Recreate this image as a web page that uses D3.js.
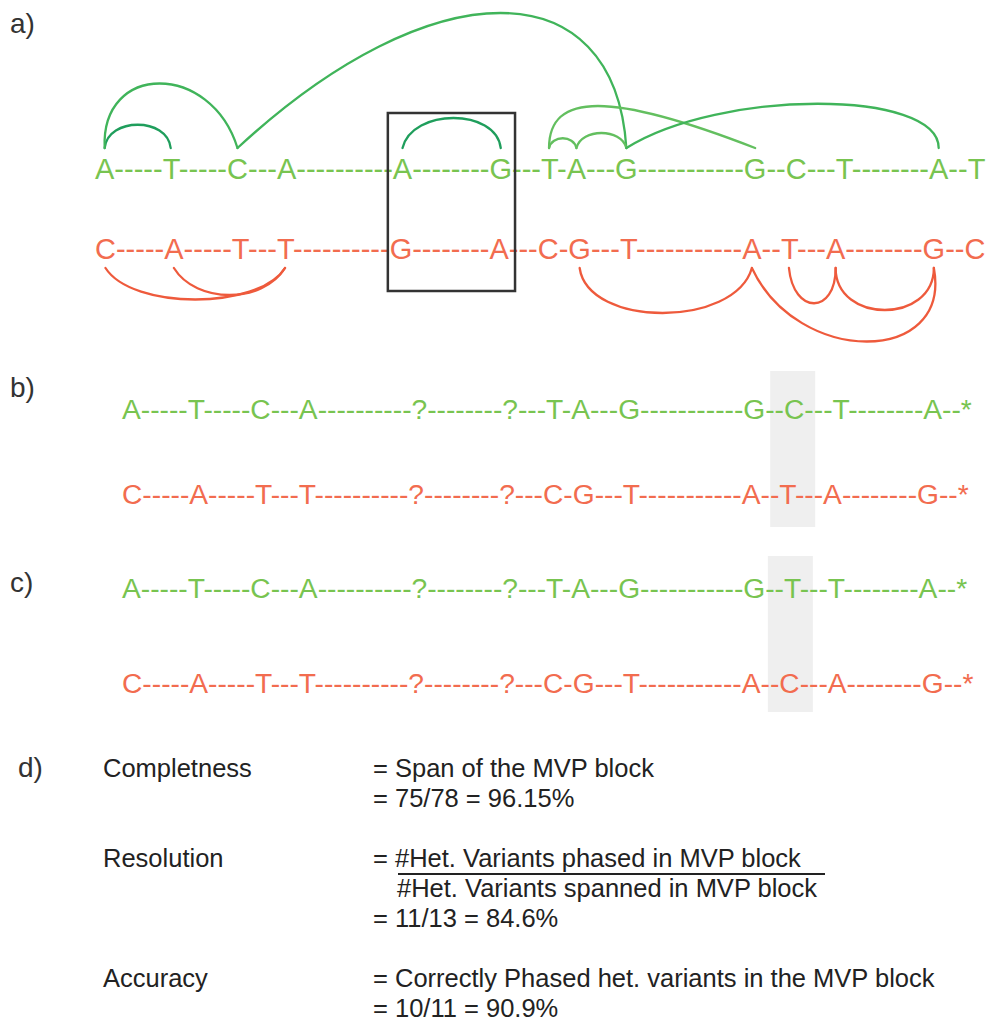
<!DOCTYPE html>
<html>
<head>
<meta charset="utf-8">
<script src="https://cdn.jsdelivr.net/npm/d3@7"></script>
<style>
  body { margin: 0; background: #fff; }
  text { font-family: "Liberation Sans", Arial, Helvetica, sans-serif; }
</style>
</head>
<body>
<div id="fig"></div>
<script>
// haplotypes (panel a) and predicted haplotypes (panels b and c)
const hapTrue1 = "A-----T-----C---A----------A--------G---T-A---G-----------G--C---T--------A--T";
const hapTrue2 = "C-----A-----T---T----------G--------A---C-G---T-----------A--T---A--------G--C";
const hapB1 = "A-----T-----C---A----------?--------?---T-A---G-----------G--C---T--------A--*";
const hapB2 = "C-----A-----T---T----------?--------?---C-G---T-----------A--T---A--------G--*";
const hapC1 = "A-----T-----C---A----------?--------?---T-A---G-----------G--T---T--------A--*";
const hapC2 = "C-----A-----T---T----------?--------?---C-G---T-----------A--C---A--------G--*";

// read links, as [from variant, to variant] (variant = n-th letter in the row)
const greenLinks = [[0, 1], [0, 2], [2, 8], [4, 5], [6, 9], [6, 7], [7, 8], [8, 12]];
const redLinks = [[0, 3], [1, 3], [7, 9], [9, 12], [10, 11], [11, 12]];
const boxedVariants = [4, 5];
const switchedVariant = 10;

const panelLabels = ["a)", "b)", "c)", "d)"];
const metricNames = ["Completness", "Resolution", "Accuracy"];
const metricLines = [
  ["= Span of the MVP block", "= 75/78 = 96.15%"],
  ["= #Het. Variants phased in MVP block", "#Het. Variants spanned in MVP block", "= 11/13 = 84.6%"],
  ["= Correctly Phased het. variants in the MVP block", "= 10/11 = 90.9%"]
];

// drawing styles for the arcs (h = depth, k1/k2 = control point placement)
const dark = "#1f9e5c", mid = "#40b45a", light = "#63bf5f";
const greenArcStyle = [
  {h: 31, k1: 0.05, k2: 0.95, c: dark},
  {h: 86, k1: -0.03, k2: 0.8, c: mid},
  {h: 180, k1: 0.5, k2: 0.97, c: mid},
  {h: 40, k1: 0.1, k2: 0.95, c: dark},
  {h: 56, k1: 0.0, k2: 0.3, c: light},
  {h: 13, k1: 0.1, k2: 0.9, c: light},
  {h: 20, k1: 0.1, k2: 0.9, c: light},
  {h: 59, k1: 0.3, k2: 1.0, c: mid}
];
const redArcStyle = [
  {h: 42, k1: 0.15, k2: 0.85},
  {h: 36, k1: 0.2, k2: 0.8},
  {h: 60, k1: 0.05, k2: 0.9},
  {h: 98, k1: 0.25, k2: 1.1},
  {h: 47, k1: 0.1, k2: 1.0},
  {h: 56, k1: 0.0, k2: 1.0}
];

const green = "#78c450", red = "#f26c4f", redArc = "#ee5a3c";
const width = 990, height = 1021;

const svg = d3.select("#fig")
  .append("svg")
  .attr("width", width)
  .attr("height", height);

// highlight layer goes first so it sits behind the letters
const bgLayer = svg.append("g");

// draws one row of sequence and returns an x position for each variant letter
function drawRow(seq, x, y, size, color) {
  let t = svg.append("text")
    .attr("x", x)
    .attr("y", y)
    .attr("font-size", size)
    .attr("fill", color)
    .text(seq);
  let node = t.node();
  let idx = [];
  seq.split("").forEach((ch, i) => { if (ch !== "-") idx.push(i); });
  let ext = idx.map(i => node.getExtentOfChar(i));
  let xScale = d3.scaleOrdinal()
    .domain(d3.range(idx.length))
    .range(ext.map(e => e.x + e.width / 2));
  xScale.extents = ext;
  return xScale;
}

// panel a
let aTop = drawRow(hapTrue1, 95, 179, 29, green);
let aBot = drawRow(hapTrue2, 95, 259, 29, red);

function arcPath(x1, x2, y, h, k1, k2, dir) {
  let p = d3.path();
  p.moveTo(x1, y);
  p.bezierCurveTo(x1 + k1 * (x2 - x1), y + dir * h, x1 + k2 * (x2 - x1), y + dir * h, x2, y);
  return p.toString();
}

svg.append("g").selectAll("path")
  .data(greenLinks)
  .join("path")
  .attr("d", (d, i) => {
    let s = greenArcStyle[i];
    return arcPath(aTop(d[0]), aTop(d[1]), 148, s.h, s.k1, s.k2, -1);
  })
  .attr("fill", "none")
  .attr("stroke", (d, i) => greenArcStyle[i].c)
  .attr("stroke-width", 2.3)
  .attr("stroke-linecap", "round");

svg.append("g").selectAll("path")
  .data(redLinks)
  .join("path")
  .attr("d", (d, i) => {
    let s = redArcStyle[i];
    return arcPath(aBot(d[0]), aBot(d[1]), 268, s.h, s.k1, s.k2, 1);
  })
  .attr("fill", "none")
  .attr("stroke", redArc)
  .attr("stroke-width", 2.3)
  .attr("stroke-linecap", "round");

// the box round the two variants no read in the block can phase
let e0 = aTop.extents[boxedVariants[0]], e1 = aTop.extents[boxedVariants[1]];
svg.append("rect")
  .attr("x", e0.x - 5)
  .attr("y", 113)
  .attr("width", e1.x + e1.width + 3 - (e0.x - 5))
  .attr("height", 178)
  .attr("fill", "none")
  .attr("stroke", "#333")
  .attr("stroke-width", 2.5);

// panels b and c
let bTop = drawRow(hapB1, 122, 419, 28.2, green);
drawRow(hapB2, 122, 504, 28.2, red);
let cTop = drawRow(hapC1, 122, 598, 28.2, green);
drawRow(hapC2, 122, 693, 28.2, red);

[[bTop, 371], [cTop, 556]].forEach(([sc, y0]) => {
  bgLayer.append("rect")
    .attr("x", sc(switchedVariant) - 24)
    .attr("y", y0)
    .attr("width", 45)
    .attr("height", 156)
    .attr("fill", "#efefef");
});

// panel labels
const labelY = [33, 397, 592, 777];
const labelX = [10, 10, 10, 18];
svg.append("g").selectAll("text")
  .data(panelLabels)
  .join("text")
  .attr("x", (d, i) => labelX[i])
  .attr("y", (d, i) => labelY[i])
  .attr("font-size", 28)
  .attr("fill", "#333")
  .text(d => d);

// panel d: the metrics
const metricY = [777, 867, 987];
const lineGap = 30;
let dGroup = svg.append("g").attr("fill", "#222").attr("font-size", 25.5);

dGroup.selectAll("text.name")
  .data(metricNames)
  .join("text")
  .attr("class", "name")
  .attr("x", 103)
  .attr("y", (d, i) => metricY[i])
  .text(d => d);

metricLines.forEach((lines, i) => {
  lines.forEach((l, j) => {
    dGroup.append("text")
      .attr("x", l.startsWith("=") ? 373 : 397)
      .attr("y", metricY[i] + j * lineGap)
      .text(l);
  });
});

// fraction bar under the numerator of the resolution
svg.append("line")
  .attr("x1", 398)
  .attr("x2", 825)
  .attr("y1", metricY[1] + 7)
  .attr("y2", metricY[1] + 7)
  .attr("stroke", "#222")
  .attr("stroke-width", 2);
</script>
</body>
</html>
